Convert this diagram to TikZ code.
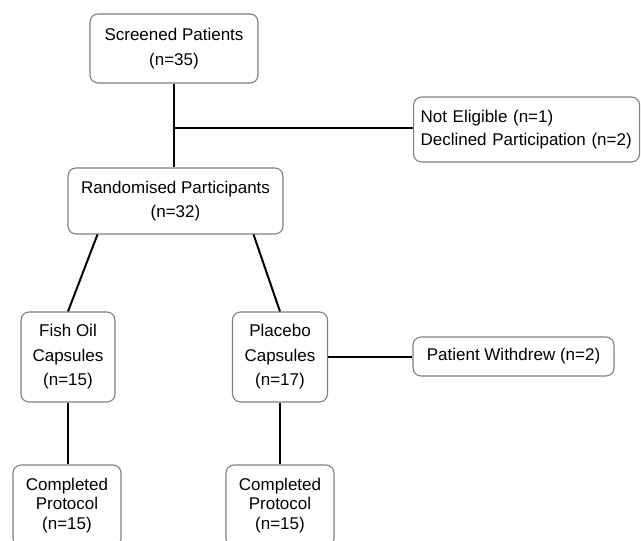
\documentclass[tikz,border=0pt]{standalone}
\usepackage{fontspec}
\setmainfont{Liberation Sans}
\begin{document}
\begin{tikzpicture}[x=1pt,y=-1pt,
		box/.style={draw=black!50,line width=1.1pt,rounded corners=8pt,align=center,text=black,inner sep=0pt,font=\fontsize{17}{24.5}\selectfont},
		tightbox/.style={box,font=\fontsize{17}{19.5}\selectfont},
		link/.style={draw=black,line width=2pt}]
	\useasboundingbox (0,0) rectangle (641,541);
	\clip (0,0) rectangle (641,541);
	% boxes
	\node[box,minimum width=168pt,minimum height=69pt] (screen) at (174,48.5) {Screened Patients\\(n=35)};
	\node[box,anchor=west,text width=212pt,align=left,inner xsep=7pt,minimum height=65pt,font=\fontsize{17}{23}\selectfont] (excl) at (413,129.5) {Not Eligible (n=1)\\Declined Participation (n=2)};
	\node[box,minimum width=215pt,minimum height=66pt] (rand) at (175.5,201) {Randomised Participants\\(n=32)};
	\node[box,minimum width=94pt,minimum height=90pt] (fish) at (68,357) {Fish Oil\\Capsules\\(n=15)};
	\node[box,minimum width=95pt,minimum height=90pt] (plac) at (280,357) {Placebo\\Capsules\\(n=17)};
	\node[box,minimum width=201pt,minimum height=39pt] (wdrw) at (513.5,356.5) {Patient Withdrew (n=2)};
	\node[tightbox,minimum width=108pt,minimum height=81pt] (compA) at (67,505.5) {Completed\\Protocol\\(n=15)};
	\node[tightbox,minimum width=108pt,minimum height=81pt] (compB) at (280,505.5) {Completed\\Protocol\\(n=15)};
	% connectors
	\coordinate (jct) at (174,128);
	\draw[link] (screen.south) -- (screen.south |- rand.north);
	\draw[link] (jct) -- (jct -| excl.west);
	\draw[link] ([xshift=30pt]rand.south west) -- (fish.north);
	\draw[link] ([xshift=-30pt]rand.south east) -- (plac.north);
	\draw[link] (plac.east) -- (plac.east -| wdrw.west);
	\draw[link] (fish.south) -- (fish.south |- compA.north);
	\draw[link] (plac.south) -- (plac.south |- compB.north);
\end{tikzpicture}
\end{document}
